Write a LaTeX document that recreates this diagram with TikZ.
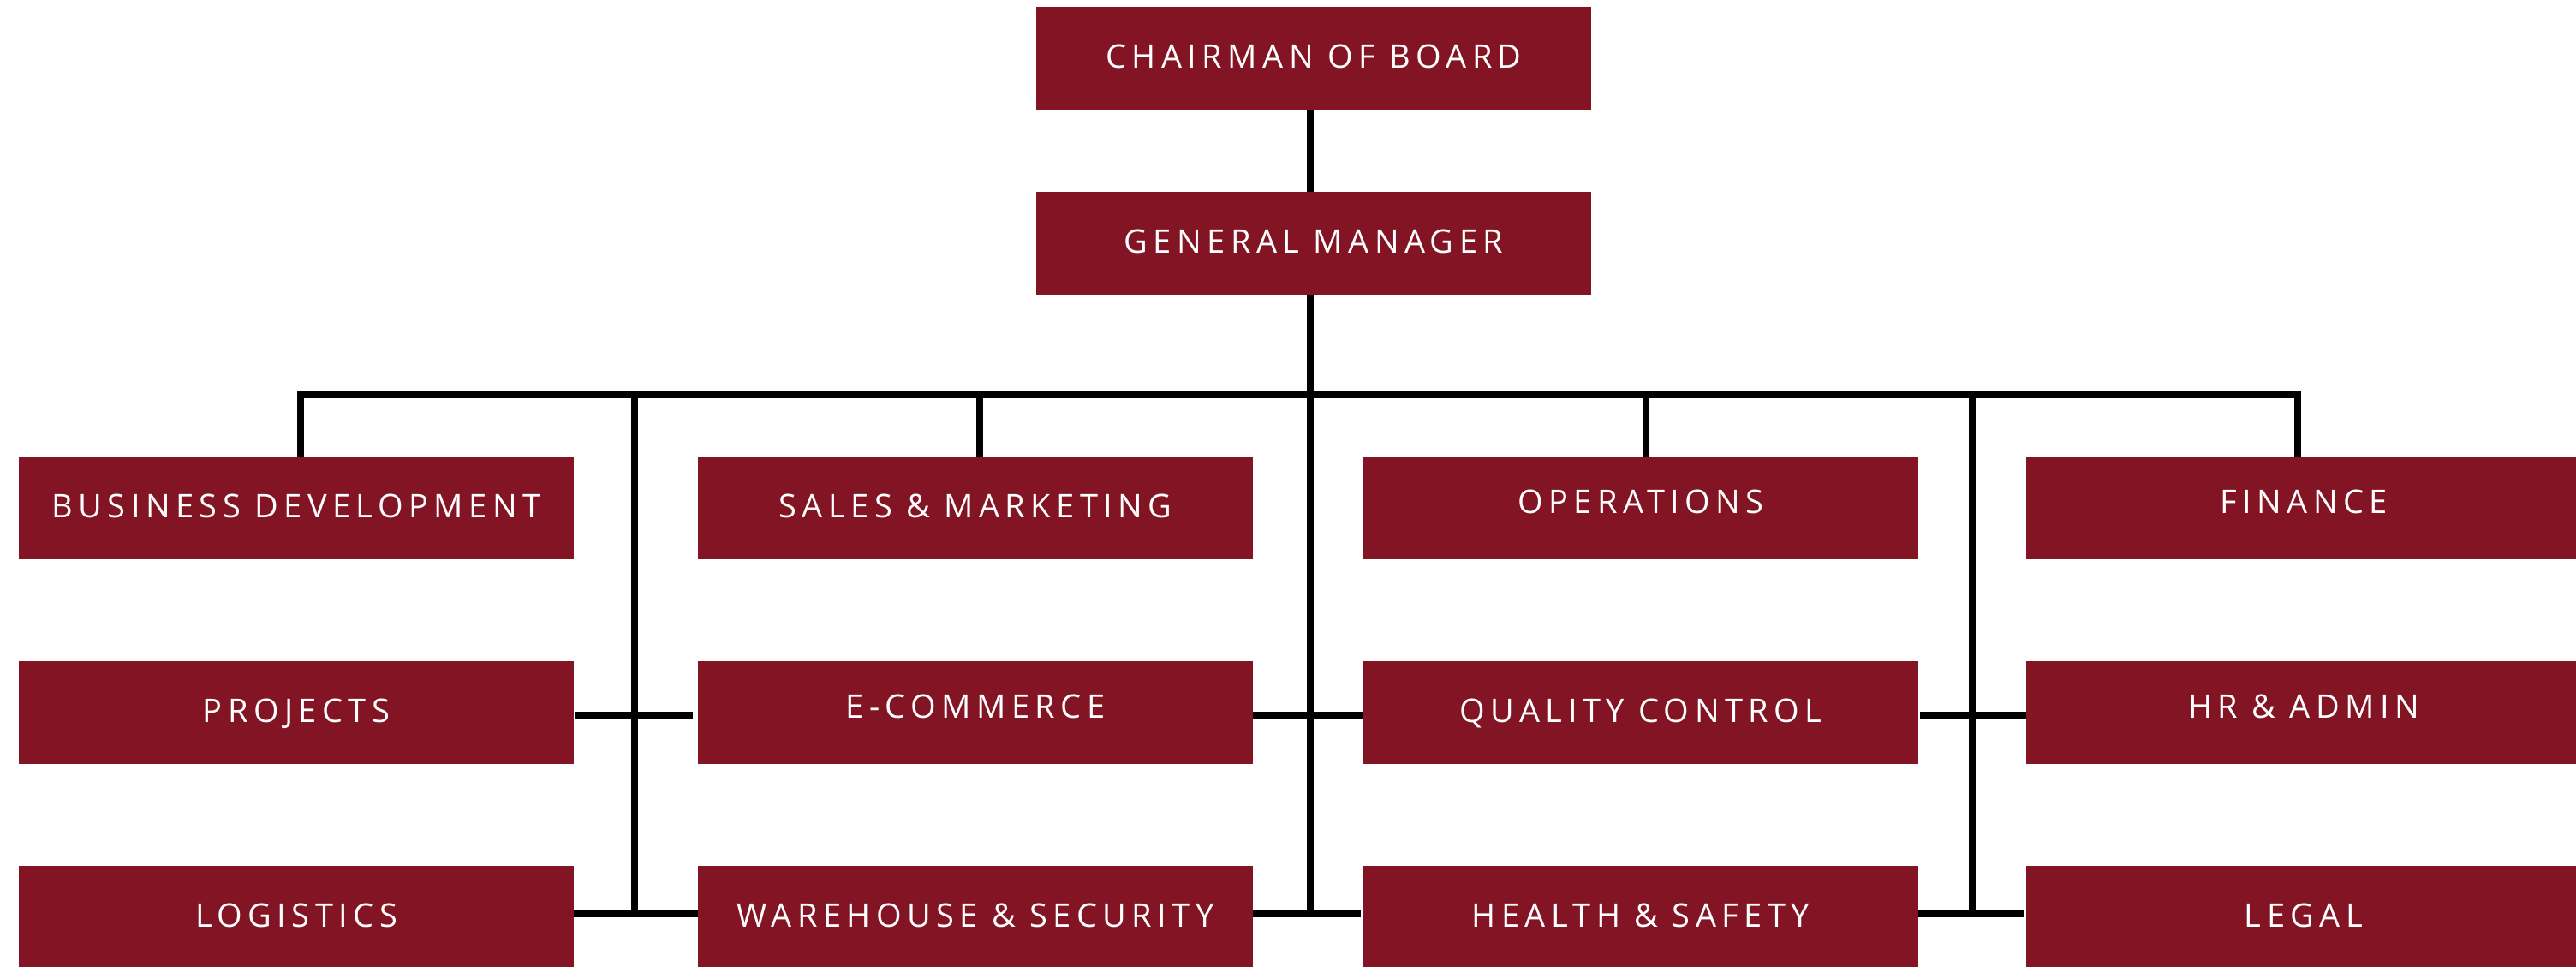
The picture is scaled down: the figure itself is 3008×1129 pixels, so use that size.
\documentclass[tikz,border=0pt]{standalone}
\usepackage{fontspec}
\setmainfont{Open Sans}[LetterSpace=17]
\definecolor{boxred}{RGB}{130,20,36}
\begin{document}
\begin{tikzpicture}[x=1pt,y=-1pt,
  box/.style={rectangle, fill=boxred, text=white, minimum width=648pt, minimum height=120pt,
    inner sep=0pt, text height=27pt, text depth=4pt, font=\fontsize{38}{46}\selectfont},
  hi/.style={text depth=14pt},
  conn/.style={line width=8pt, draw=black}]
\useasboundingbox (0,0) rectangle (3008,1129);
\clip (0,0) rectangle (3008,1129);

% top
\node[box] (chair) at (1534,68) {CHAIRMAN OF BOARD};
\node[box] (gm) at (1534,284) {GENERAL MANAGER};

% row 1
\node[box] (bd) at (346,593) {BUSINESS DEVELOPMENT};
\node[box] (sm) at (1139,593) {SALES \& MARKETING};
\node[box, hi] (op) at (1916,593) {OPERATIONS};
\node[box, hi] (fin) at (2690,593) {FINANCE};
% row 2
\node[box] (pr) at (346,832) {PROJECTS};
\node[box, hi] (ec) at (1139,832) {E-COMMERCE};
\node[box] (qc) at (1916,832) {QUALITY CONTROL};
\node[box, hi] (hr) at (2690,832) {HR \& ADMIN};
% row 3
\node[box] (lg) at (346,1071) {LOGISTICS};
\node[box] (wh) at (1139,1071) {WAREHOUSE \& SECURITY};
\node[box] (hs) at (1916,1071) {HEALTH \& SAFETY};
\node[box] (le) at (2690,1071) {LEGAL};

% spine and bus
\coordinate (spine) at (1530,461);
\coordinate (vl) at (741,461);
\coordinate (vr) at (2303,461);
\coordinate (bottom) at (0,1067);

\draw[conn] (chair.south -| spine) -- (gm.north -| spine);
\draw[conn] (gm.south -| spine) -- (spine |- bottom);
\draw[conn, line join=miter] ([xshift=5pt]bd.north) |- (spine) -| ([xshift=-7pt]fin.north);
\draw[conn] ([xshift=5pt]sm.north) -- ([xshift=5pt]sm.north |- spine);
\draw[conn] ([xshift=6pt]op.north) -- ([xshift=6pt]op.north |- spine);
\draw[conn] (vl) -- (vl |- bottom);
\draw[conn] (vr) -- (vr |- bottom);

% row 2 connectors
\draw[conn] ([xshift=2pt,yshift=-3pt]pr.east) -- ([xshift=-6pt,yshift=-3pt]ec.west);
\draw[conn] ([yshift=-3pt]ec.east) -- ([yshift=-3pt]qc.west);
\draw[conn] ([xshift=2pt,yshift=-3pt]qc.east) -- ([yshift=-3pt]hr.west);
% row 3 connectors
\draw[conn] ([yshift=4pt]lg.east) -- ([yshift=4pt]wh.west);
\draw[conn] ([yshift=4pt]wh.east) -- ([xshift=-3pt,yshift=4pt]hs.west);
\draw[conn] ([yshift=4pt]hs.east) -- ([xshift=-3pt,yshift=4pt]le.west);
\end{tikzpicture}
\end{document}
